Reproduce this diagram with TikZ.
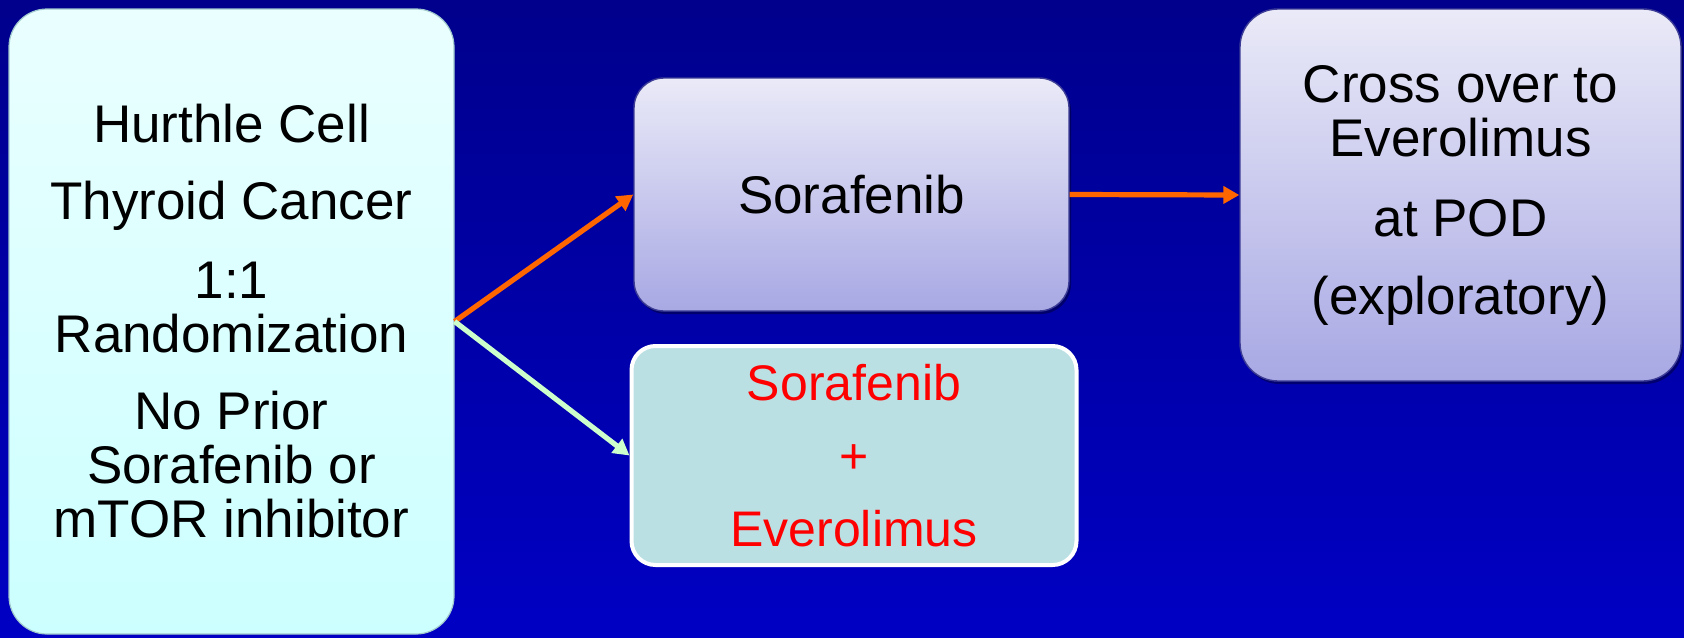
\documentclass[tikz,border=0pt]{standalone}
\usepackage{fontspec}
\setmainfont{Liberation Sans}
\usetikzlibrary{arrows.meta,shadows}

\definecolor{bgtop}{RGB}{0,0,140}
\definecolor{bgbot}{RGB}{0,0,196}
\definecolor{cyantop}{RGB}{234,255,255}
\definecolor{cyanbot}{RGB}{204,255,255}
\definecolor{cyanedge}{RGB}{160,200,205}
\definecolor{lavtop}{RGB}{234,234,248}
\definecolor{lavbot}{RGB}{168,168,228}
\definecolor{lavedge}{RGB}{60,60,150}
\definecolor{combofill}{RGB}{186,224,228}
\definecolor{armorange}{RGB}{255,102,0}
\definecolor{armgreen}{RGB}{204,255,204}
\definecolor{textred}{RGB}{255,0,0}

\tikzset{
  bigtext/.style={font=\fontsize{26.5}{27}\selectfont, align=center, text=black},
  popbox/.style={bigtext, rounded corners=19pt, draw=cyanedge, line width=0.6pt,
    top color=cyantop, bottom color=cyanbot, inner sep=0pt},
  armbox/.style={bigtext, rounded corners=15pt, draw=lavedge, line width=0.7pt,
    top color=lavtop, bottom color=lavbot, inner sep=0pt,
    drop shadow={shadow xshift=1pt, shadow yshift=-1.5pt, opacity=0.35, fill=black}},
  combobox/.style={font=\fontsize{25}{36.5}\selectfont, align=center, text=textred,
    rounded corners=12pt, draw=white, line width=2pt, fill=combofill, inner sep=0pt},
  arrowline/.style={line width=2.6pt, -{Triangle[length=8pt,width=8.5pt]}},
}

\begin{document}
\begin{tikzpicture}[x=0.5pt,y=-0.5pt]
  % backdrop
  \useasboundingbox (0,0) rectangle (1684,637);
  \fill[top color=bgtop, bottom color=bgbot] (0,0) rectangle (1684,637);

  % patient population
  \node[popbox, minimum width=222.5pt, minimum height=312.5pt] (pop) at (231.5,321.5)
    {Hurthle Cell\\[11.5pt]
     Thyroid Cancer\\[12.5pt]
     1:1\\
     Randomization\\[11.5pt]
     No Prior\\
     Sorafenib or\\
     mTOR inhibitor};

  % treatment arms
  \node[armbox, minimum width=217.5pt, minimum height=116.5pt] (sor) at (851.5,194.5)
    {Sorafenib};
  \node[combobox, minimum width=222.5pt, minimum height=109.5pt] (combo) at (854,455.5)
    {Sorafenib\\ +\\ Everolimus};

  % crossover
  \node[armbox, rounded corners=19pt, minimum width=220.5pt, minimum height=186pt] (cross) at (1460.5,195)
    {Cross over to\\
     Everolimus\\[13pt]
     at POD\\[12pt]
     (exploratory)};

  % connectors
  \draw[arrowline, armorange] (pop.east) -- (sor.west);
  \draw[arrowline, armgreen] (pop.east) -- (combo.west);
  \draw[arrowline, armorange] (sor.east) -- (cross.west);
\end{tikzpicture}
\end{document}
